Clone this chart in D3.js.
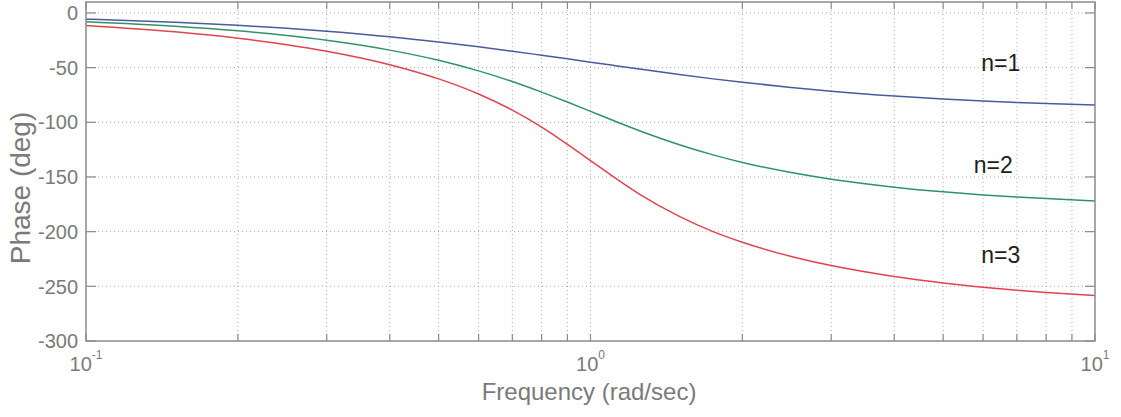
<!DOCTYPE html>
<html><head><meta charset="utf-8">
<script src="https://cdn.jsdelivr.net/npm/d3@7"></script>
<style>
html,body{margin:0;padding:0;background:#fff;}
svg{display:block;font-family:"Liberation Sans",Arial,Helvetica,sans-serif;}
</style></head>
<body>
<svg id="chart" width="1121" height="417"></svg>
<script>
// Frequencies (rad/sec) at which the curves were read
const freq = [0.1,0.15,0.2,0.25,0.3,0.4,0.5,0.6,0.7,0.8,0.9,1,1.1,1.25,1.5,1.75,2,2.5,3,4,5,6,7,8,10];
// Phase (deg)
const phaseN1 = [-5.7,-8.5,-11.3,-14.0,-16.7,-21.8,-26.6,-31.0,-35.0,-38.7,-42.0,-45.0,-47.7,-51.3,-56.3,-60.3,-63.4,-68.2,-71.6,-76.0,-78.7,-80.5,-81.9,-82.9,-84.3];
const phaseN2 = [-8.1,-12.2,-16.4,-20.7,-25.0,-34.0,-43.3,-53.0,-62.7,-72.4,-81.5,-90.0,-97.7,-107.7,-120.5,-129.8,-136.7,-146.0,-152.1,-159.3,-163.6,-166.4,-168.4,-169.8,-171.9];
const phaseN3 = [-11.5,-17.3,-23.1,-29.0,-35.0,-47.3,-60.3,-74.1,-88.9,-104.4,-120.1,-135.0,-148.5,-165.6,-186.1,-200.0,-209.7,-222.7,-231.0,-241.0,-246.9,-250.8,-253.6,-255.6,-258.5];
const seriesNames = ["n=1","n=2","n=3"];
const seriesColors = ["#4b5a9c","#2e9468","#e2434e"];
const yTicks = [0,-50,-100,-150,-200,-250,-300];
const xMajor = [0.1,1,10];
const xMinor = [0.2,0.3,0.4,0.5,0.6,0.7,0.8,0.9,2,3,4,5,6,7,8,9];
const xTickLabels = [{base:"10",exp:"-1"},{base:"10",exp:"0"},{base:"10",exp:"1"}];
const labelPos = [{f:5.95,v:-53},{f:5.75,v:-146},{f:5.95,v:-229}];

const svg = d3.select("#chart");
const L=86, R=1095, T=2, B=341;
const x = d3.scaleLog().domain([0.1,10]).range([L,R]);
const y = d3.scaleLinear().domain([-300,10]).range([B,T]);

const gridCol="#a8a8a8", axisCol="#8a8a8a", textCol="#7a7a7a";

// grid
const g = svg.append("g");
g.selectAll("line.vg").data(xMinor.concat([1])).enter().append("line")
  .attr("x1",d=>x(d)).attr("x2",d=>x(d)).attr("y1",T).attr("y2",B)
  .attr("stroke",gridCol).attr("stroke-width",1).attr("stroke-dasharray","1,3");
g.selectAll("line.hg").data(yTicks.filter(d=>d>-300)).enter().append("line")
  .attr("x1",L).attr("x2",R).attr("y1",d=>y(d)).attr("y2",d=>y(d))
  .attr("stroke",gridCol).attr("stroke-width",1).attr("stroke-dasharray","1,3");

// curves
const line = d3.line().x((d,i)=>x(freq[i])).y(d=>y(d)).curve(d3.curveMonotoneX);
[phaseN1,phaseN2,phaseN3].forEach((s,i)=>{
  svg.append("path").datum(s).attr("d",line).attr("fill","none")
    .attr("stroke",seriesColors[i]).attr("stroke-width",1.5);
});

// box and ticks
svg.append("rect").attr("x",L).attr("y",T).attr("width",R-L).attr("height",B-T)
  .attr("fill","none").attr("stroke",axisCol).attr("stroke-width",1.5);
const allX = xMajor.concat(xMinor);
const tk = svg.append("g").attr("stroke",axisCol).attr("stroke-width",1.2);
allX.forEach(d=>{
  tk.append("line").attr("x1",x(d)).attr("x2",x(d)).attr("y1",B).attr("y2",B-7);
  tk.append("line").attr("x1",x(d)).attr("x2",x(d)).attr("y1",T).attr("y2",T+7);
});
yTicks.forEach(d=>{
  tk.append("line").attr("x1",L).attr("x2",L+10).attr("y1",y(d)).attr("y2",y(d));
  tk.append("line").attr("x1",R).attr("x2",R-10).attr("y1",y(d)).attr("y2",y(d));
});

// y tick labels
svg.append("g").selectAll("text").data(yTicks).enter().append("text")
  .attr("x",78).attr("y",d=>y(d)).attr("dy","0.36em").attr("text-anchor","end")
  .attr("font-size",20).attr("fill",textCol).text(d=>d);

// x tick labels
xMajor.forEach((d,i)=>{
  const t = svg.append("text").attr("x",x(d)).attr("y",371).attr("text-anchor","middle")
    .attr("font-size",20).attr("fill",textCol);
  t.append("tspan").text(xTickLabels[i].base);
  t.append("tspan").attr("font-size",12).attr("dy",-12).text(xTickLabels[i].exp);
});

// axis titles
svg.append("text").attr("x",589).attr("y",400).attr("text-anchor","middle")
  .attr("font-size",24).attr("fill",textCol).text("Frequency (rad/sec)");
svg.append("text").attr("transform","translate(30,188) rotate(-90)").attr("text-anchor","middle")
  .attr("font-size",28).attr("fill",textCol).text("Phase (deg)");

// series labels
seriesNames.forEach((n,i)=>{
  svg.append("text").attr("x",x(labelPos[i].f)).attr("y",y(labelPos[i].v))
    .attr("font-size",23).attr("fill","#1e1e1e").text(n);
});
</script>
</body></html>
